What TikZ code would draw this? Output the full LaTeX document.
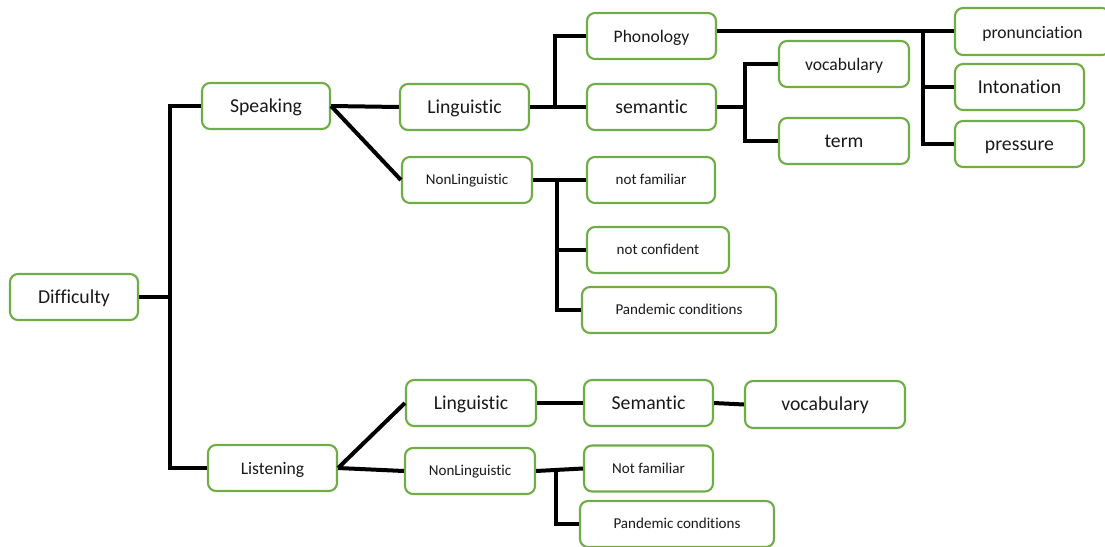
\documentclass[tikz,border=0pt]{standalone}
\usepackage{fontspec}
\setmainfont{Carlito}[Ligatures=NoCommon, RawFeature={-calt}]
\usetikzlibrary{calc}
\definecolor{boxgreen}{HTML}{70AD47}
\newdimen\px \px=0.75pt
\tikzset{
  box/.style={draw=boxgreen, line width=1.6pt, rounded corners=6pt, fill=white,
    inner sep=0pt, minimum height=46\px, align=center, text=black!90},
  big/.style={font=\fontsize{14.8}{17}\selectfont, text height=0.92em, text depth=0pt},
  med/.style={font=\fontsize{13.2}{15}\selectfont, text height=1.0em, text depth=0pt},
  sml/.style={font=\fontsize{11.3}{13}\selectfont, text height=0.72em, text depth=0pt},
  conn/.style={draw=black, line width=3pt, line join=miter},
}
\begin{document}
\begin{tikzpicture}[x=0.75pt, y=-0.75pt]
\useasboundingbox (0,0) rectangle (1105,546);
\coordinate (tr) at (170,0);
\coordinate (j1) at (555,106);
\coordinate (j2) at (923,31);
\coordinate (j3) at (745,107);
\coordinate (j4) at (557,180);
\coordinate (j5) at (556,468);

% nodes
\node[box,big,minimum width=128\px] (diff) at (74,297) {Difficulty};
\node[box,big,minimum width=128\px] (speak) at (266,106) {Speaking};
\node[box,med,minimum width=129\px] (listen) at (272.5,468) {Listening};
\node[box,big,minimum width=129\px] (ling1) at (464.5,107) {Linguistic};
\node[box,sml,minimum width=130\px] (nonl1) at (467,180) {NonLinguistic};
\node[box,med,minimum width=129\px] (phon) at (651.5,36) {Phonology};
\node[box,big,minimum width=129\px] (sem1) at (651.5,107) {semantic};
\node[box,med,minimum width=130\px] (voc1) at (844,64) {vocabulary};
\node[box,big,minimum width=130\px] (term) at (844,141) {term};
\node[box,med,minimum width=155\px,minimum height=47\px] (pron) at (1032.5,31.5) {pronunciation};
\node[box,big,minimum width=129\px] (inton) at (1019.5,87) {Intonation};
\node[box,big,minimum width=129\px] (press) at (1019.5,144) {pressure};
\node[box,sml,minimum width=128\px] (nf1) at (651,180) {not familiar};
\node[box,sml,minimum width=142\px] (nc) at (658,250) {not confident};
\node[box,sml,minimum width=194\px] (pan1) at (679,310) {Pandemic conditions};
\node[box,big,minimum width=130\px] (ling2) at (471,403) {Linguistic};
\node[box,big,minimum width=129\px] (sem2) at (648.5,403) {Semantic};
\node[box,big,minimum width=160\px,minimum height=47\px] (voc2) at (825,404.5) {vocabulary};
\node[box,sml,minimum width=130\px] (nonl2) at (470,471) {NonLinguistic};
\node[box,sml,minimum width=129\px] (nf2) at (648.5,468.5) {Not familiar};
\node[box,sml,minimum width=194\px] (pan2) at (677,524) {Pandemic conditions};

% trunk
\draw[conn] (diff.east) -- (diff.east -| tr);
\draw[conn] (speak.west) -- (speak.west -| tr) -- (listen.west -| tr) -- (listen.west);
% speaking
\draw[conn] (speak.east) -- (ling1.west);
\draw[conn] (speak.east) -- (nonl1.west);
\draw[conn] (ling1.east) -- (sem1.west);
\draw[conn] (j1) |- (phon.west);
\draw[conn] (phon.east |- j2) -- (pron.west |- j2);
\draw[conn] (j2) |- (inton.west);
\draw[conn] (j2) |- (press.west);
\draw[conn] (sem1.east) -- (j3);
\draw[conn] (voc1.west) -| (j3) |- (term.west);
\draw[conn] (nonl1.east) -- (nf1.west);
\draw[conn] (j4) |- (nc.west);
\draw[conn] (j4) |- (pan1.west);
% listening
\draw[conn] (listen.east) -- (ling2.west);
\draw[conn] (listen.east) -- (nonl2.west);
\draw[conn] (ling2.east) -- (sem2.west);
\draw[conn] (sem2.east) -- (voc2.west);
\draw[conn] (nonl2.east) -- (nf2.west);
\draw[conn] (j5) |- (pan2.west);
\end{tikzpicture}
\end{document}
